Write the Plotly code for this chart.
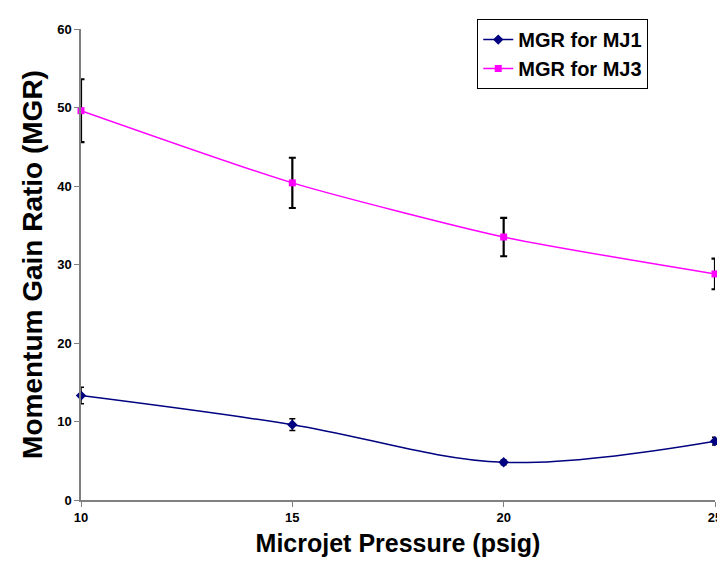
import plotly.graph_objects as go

pressure = [10, 15, 20, 25]
mgr_mj1 = [13.3, 9.6, 4.8, 7.5]
err_mj1 = [1.05, 0.75, 0.3, 0.5]
mgr_mj3 = [49.6, 40.4, 33.5, 28.8]
err_mj3 = [4.0, 3.2, 2.45, 1.95]
y_ticks = [0, 10, 20, 30, 40, 50, 60]
x_ticks = [10, 15, 20, 25]

font_family = "Liberation Sans, Arial, sans-serif"

fig = go.Figure()
fig.add_trace(go.Scatter(
    x=pressure, y=mgr_mj1, name="MGR for MJ1", mode="lines+markers",
    line=dict(color="#000080", width=1.5, shape="spline", smoothing=1.0),
    marker=dict(symbol="diamond", size=8, color="#000080"),
    error_y=dict(type="data", array=err_mj1, visible=True, color="black", thickness=1.5, width=3),
    cliponaxis=False,
))
fig.add_trace(go.Scatter(
    x=pressure, y=mgr_mj3, name="MGR for MJ3", mode="lines+markers",
    line=dict(color="#FF00FF", width=1.5, shape="spline", smoothing=0.6),
    marker=dict(symbol="square", size=7, color="#FF00FF"),
    error_y=dict(type="data", array=err_mj3, visible=True, color="black", thickness=2.2, width=3.5),
    cliponaxis=False,
))

fig.update_layout(
    width=725, height=561,
    margin=dict(l=73, r=11, t=15, b=69),
    paper_bgcolor="white", plot_bgcolor="white",
    font=dict(family=font_family, color="black"),
    showlegend=True,
    legend=dict(
        x=0.625, y=1.021, xanchor="left", yanchor="top",
        bgcolor="white", bordercolor="black", borderwidth=1,
        font=dict(size=20, family=font_family, color="black", weight="bold"),
        itemwidth=30, tracegroupgap=2,
    ),
    xaxis=dict(
        range=[10, 25], tickvals=x_ticks, ticks="outside", ticklen=5,
        tickcolor="#808080", showline=True, linecolor="#808080", linewidth=1.5,
        showgrid=False, zeroline=False,
        tickfont=dict(size=13, family=font_family, color="black", weight="bold"),
        title=dict(text="<b>Microjet Pressure (psig)</b>", font=dict(size=25, family=font_family), standoff=10),
    ),
    yaxis=dict(
        range=[0, 60], tickvals=y_ticks, ticks="outside", ticklen=5,
        tickcolor="#808080", showline=True, linecolor="#808080", linewidth=1.5,
        showgrid=False, zeroline=False,
        tickfont=dict(size=13, family=font_family, color="black", weight="bold"),
        title=dict(text="<b>Momentum Gain Ratio (MGR)</b>", font=dict(size=28, family=font_family), standoff=6),
    ),
)

fig.write_html("out.html")
